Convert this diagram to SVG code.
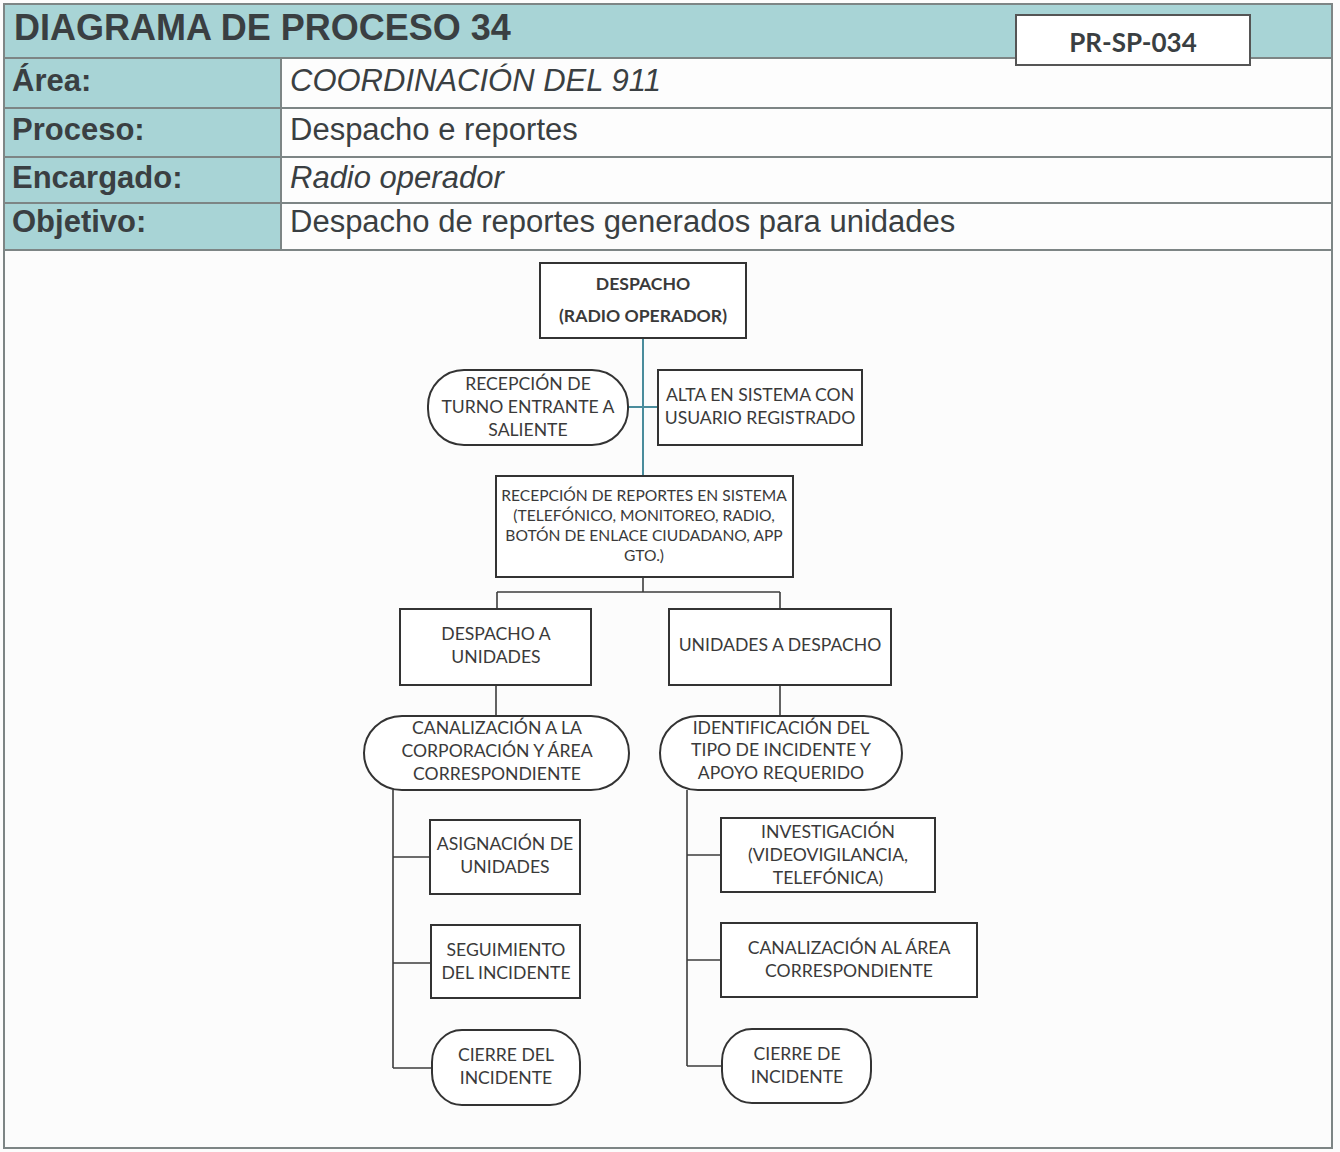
<svg xmlns="http://www.w3.org/2000/svg" width="1340" height="1152" viewBox="0 0 1340 1152">
<style>
.hdr{font-family:"Liberation Sans",Arial,sans-serif;fill:#3a3f42}
.lbl{font-size:31px;font-weight:bold}
.val{font-size:31px}
.it{font-style:italic}
.grid{stroke:#7d8585;stroke-width:2;fill:none}
.box{fill:#fff;stroke:#333;stroke-width:2}
.t{font-family:Lato,"Noto Sans",sans-serif;font-size:17.6px;fill:#3a3a3a;text-anchor:middle}
.ts{font-size:15.6px}
.b{font-weight:bold}
.c{stroke:#3c3c3c;stroke-width:1.6;fill:none}
.ct{stroke:#4a8c9c;stroke-width:2;fill:none}
</style>
<rect x="0" y="0" width="1340" height="1152" fill="#fcfcfc"/>
<g id="header">
<rect x="4" y="4" width="1328" height="54" fill="#a8d4d6"/>
<rect x="4" y="58" width="277" height="192" fill="#a8d4d6"/>
<rect x="281" y="58" width="1051" height="192" fill="#fdfdfd"/>
<path class="grid" d="M4 4H1332V1148H4Z M4 58H1332 M4 108H1332 M4 157H1332 M4 203H1332 M4 250H1332 M281 58V250"/>
<text class="hdr" x="14" y="40" font-size="36" font-weight="bold">DIAGRAMA DE PROCESO 34</text>
<rect x="1016" y="15" width="234" height="50" fill="#fff" stroke="#555" stroke-width="2"/>
<text x="1133" y="52" font-family="Lato,sans-serif" font-size="26" font-weight="bold" fill="#3a3f42" text-anchor="middle">PR-SP-034</text>
<text class="hdr lbl" x="12" y="91">Área:</text>
<text class="hdr val it" x="290" y="91">COORDINACIÓN DEL 911</text>
<text class="hdr lbl" x="12" y="140">Proceso:</text>
<text class="hdr val" x="290" y="140">Despacho e reportes</text>
<text class="hdr lbl" x="12" y="188">Encargado:</text>
<text class="hdr val it" x="290" y="188">Radio operador</text>
<text class="hdr lbl" x="12" y="232">Objetivo:</text>
<text class="hdr val" x="290" y="232">Despacho de reportes generados para unidades</text>
</g>
<g id="connectors">
<path class="ct" d="M643 338V476 M628 407H658"/>
<path class="c" d="M643 577V592 M497 592H780 M497 592V609 M780 592V609"/>
<path class="c" d="M496 685V716 M780 685V716"/>
<path class="c" d="M393 790V1068 M393 857H430 M393 963H431 M393 1068H432"/>
<path class="c" d="M687 790V1066 M687 855H721 M687 960H721 M687 1066H722"/>
</g>
<g id="n-despacho">
<rect class="box" x="540" y="263" width="206" height="75"/>
<text class="t b" x="643" y="290">DESPACHO</text>
<text class="t b" x="643" y="322">(RADIO OPERADOR)</text>
</g>
<g id="n-turno">
<rect class="box" x="428" y="370" width="200" height="75" rx="36" ry="36"/>
<text class="t" x="528" y="390">RECEPCIÓN DE</text>
<text class="t" x="528" y="413">TURNO ENTRANTE A</text>
<text class="t" x="528" y="436">SALIENTE</text>
</g>
<g id="n-alta">
<rect class="box" x="658" y="370" width="204" height="75"/>
<text class="t" x="760" y="401">ALTA EN SISTEMA CON</text>
<text class="t" x="760" y="424">USUARIO REGISTRADO</text>
</g>
<g id="n-recepcion">
<rect class="box" x="496" y="476" width="297" height="101"/>
<text class="t ts" x="644" y="501">RECEPCIÓN DE REPORTES EN SISTEMA</text>
<text class="t ts" x="644" y="521">(TELEFÓNICO, MONITOREO, RADIO,</text>
<text class="t ts" x="644" y="541">BOTÓN DE ENLACE CIUDADANO, APP</text>
<text class="t ts" x="644" y="561">GTO.)</text>
</g>
<g id="n-despacho-unidades">
<rect class="box" x="400" y="609" width="191" height="76"/>
<text class="t" x="496" y="640">DESPACHO A</text>
<text class="t" x="496" y="663">UNIDADES</text>
</g>
<g id="n-unidades-despacho">
<rect class="box" x="669" y="609" width="222" height="76"/>
<text class="t" x="780" y="651">UNIDADES A DESPACHO</text>
</g>
<g id="n-canalizacion-corp">
<rect class="box" x="364" y="716" width="265" height="74" rx="38" ry="37"/>
<text class="t" x="497" y="734">CANALIZACIÓN A LA</text>
<text class="t" x="497" y="757">CORPORACIÓN Y ÁREA</text>
<text class="t" x="497" y="780">CORRESPONDIENTE</text>
</g>
<g id="n-identificacion">
<rect class="box" x="660" y="716" width="242" height="74" rx="38" ry="37"/>
<text class="t" x="781" y="734">IDENTIFICACIÓN DEL</text>
<text class="t" x="781" y="756">TIPO DE INCIDENTE Y</text>
<text class="t" x="781" y="779">APOYO REQUERIDO</text>
</g>
<g id="n-asignacion">
<rect class="box" x="430" y="820" width="150" height="74"/>
<text class="t" x="505" y="850">ASIGNACIÓN DE</text>
<text class="t" x="505" y="873">UNIDADES</text>
</g>
<g id="n-seguimiento">
<rect class="box" x="431" y="925" width="149" height="73"/>
<text class="t" x="506" y="956">SEGUIMIENTO</text>
<text class="t" x="506" y="979">DEL INCIDENTE</text>
</g>
<g id="n-cierre-del">
<rect class="box" x="432" y="1030" width="148" height="75" rx="30" ry="32"/>
<text class="t" x="506" y="1061">CIERRE DEL</text>
<text class="t" x="506" y="1084">INCIDENTE</text>
</g>
<g id="n-investigacion">
<rect class="box" x="721" y="818" width="214" height="74"/>
<text class="t" x="828" y="838">INVESTIGACIÓN</text>
<text class="t" x="828" y="861">(VIDEOVIGILANCIA,</text>
<text class="t" x="828" y="884">TELEFÓNICA)</text>
</g>
<g id="n-canalizacion-area">
<rect class="box" x="721" y="923" width="256" height="74"/>
<text class="t" x="849" y="954">CANALIZACIÓN AL ÁREA</text>
<text class="t" x="849" y="977">CORRESPONDIENTE</text>
</g>
<g id="n-cierre-de">
<rect class="box" x="722" y="1029" width="149" height="74" rx="30" ry="32"/>
<text class="t" x="797" y="1060">CIERRE DE</text>
<text class="t" x="797" y="1083">INCIDENTE</text>
</g>
</svg>
